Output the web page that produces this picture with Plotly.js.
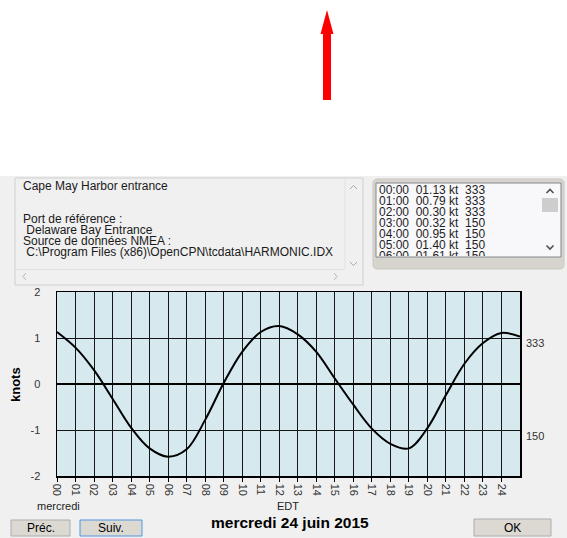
<!DOCTYPE html>
<html>
<head>
<meta charset="utf-8">
<script src="https://cdn.plot.ly/plotly-3.0.1.min.js"></script>
<style>html,body{margin:0;padding:0;background:#fff;}#chart{width:567px;height:538px;}</style>
</head>
<body>
<div id="chart"></div>
<script>
// ---- data ----
const hours = [0,1,2,3,4,5,6,7,8,9,10,11,12,13,14,15,16,17,18,19,20,21,22,23,24,25];
const speed = [1.13,0.79,0.30,-0.32,-0.95,-1.40,-1.58,-1.42,-0.78,0.02,0.70,1.13,1.26,1.08,0.70,0.12,-0.45,-0.97,-1.30,-1.40,-0.96,-0.24,0.44,0.89,1.11,1.03];
const hourTicks = [0,1,2,3,4,5,6,7,8,9,10,11,12,13,14,15,16,17,18,19,20,21,22,23,24];
const hourLabels = ['00','01','02','03','04','05','06','07','08','09','10','11','12','13','14','15','16','17','18','19','20','21','22','23','24'];
const yTicks = [-2,-1,0,1,2];
const yLabels = ['-2','-1','0','1','2'];
const listTimes = ['00:00','01:00','02:00','03:00','04:00','05:00','06:00'];
const listSpeeds = ['01.13','00.79','00.30','00.32','00.95','01.40','01.61'];
const listDirs = ['333','333','333','150','150','150','150'];
const infoLines = ['Cape May Harbor entrance','','','Port de référence :','\u00a0Delaware Bay Entrance','Source de données NMEA :','\u00a0C:\\Program Files (x86)\\OpenCPN\\tcdata\\HARMONIC.IDX'];
const dirFlood = '333', dirEbb = '150';
const dayName = 'mercredi', tzName = 'EDT', dateTitle = 'mercredi 24 juin 2015';
const yTitle = 'knots';
const buttons = ['Préc.','Suiv.','OK'];

// ---- helpers (pixel -> paper) ----
const W = 567, H = 538;
const X = p => p / W;
const Y = p => 1 - p / H;
const FONT = 'Liberation Sans, Arial, sans-serif';

function rect(x0, y0, x1, y1, fill, line, lw) {
  return {type:'rect', xref:'paper', yref:'paper', layer:'below',
    x0:X(x0), x1:X(x1), y0:Y(y1), y1:Y(y0),
    fillcolor:fill, line:{color:line || 'rgba(0,0,0,0)', width: line ? (lw || 1) : 0}};
}
function path(pts, fill, line, lw, close) {
  let d = pts.map((p, i) => (i ? 'L' : 'M') + X(p[0]).toFixed(5) + ',' + Y(p[1]).toFixed(5)).join(' ');
  if (close) d += ' Z';
  return {type:'path', xref:'paper', yref:'paper', layer:'below', path:d,
    fillcolor: fill || 'rgba(0,0,0,0)', line:{color: line || 'rgba(0,0,0,0)', width: line ? lw : 0}};
}
function roundRect(x0, y0, x1, y1, r, fill, line) {
  const pts = [];
  const seg = 4;
  const corners = [[x1 - r, y0 + r, -90], [x1 - r, y1 - r, 0], [x0 + r, y1 - r, 90], [x0 + r, y0 + r, 180]];
  corners.forEach(c => {
    for (let k = 0; k <= seg; k++) {
      const a = (c[2] + k * 90 / seg) * Math.PI / 180;
      pts.push([c[0] + r * Math.cos(a), c[1] + r * Math.sin(a)]);
    }
  });
  return path(pts, fill, line, 1, true);
}
function ann(text, px, py, o) {
  o = o || {};
  return Object.assign({xref:'paper', yref:'paper', x:X(px), y:Y(py), text:text, showarrow:false,
    xanchor:'center', yanchor:'middle', borderpad:0,
    font:{family:FONT, size:12, color:'#1a1a1a'}}, o);
}

const shapes = [];
// red arrow
shapes.push(rect(323, 33, 331, 100, '#ff0000'));
shapes.push(path([[320.5, 34], [333.5, 34], [327, 10]], '#ff0000', null, 0, true));
// dialog background
shapes.push(rect(0, 176, 567, 538, '#f0f0f0'));
// info text box
shapes.push(rect(15, 178, 363, 285, '#f0f0f0', '#cfcfcf', 1));
shapes.push(path([[345, 179], [345, 269]], null, '#e2e2e2', 1));
shapes.push(path([[16, 269.5], [345, 269.5]], null, '#e2e2e2', 1));
// scroll chevrons (info box)
shapes.push(path([[350, 189], [353.5, 185.5], [357, 189]], null, '#a8a8a8', 1));
shapes.push(path([[350, 262], [353.5, 265.5], [357, 262]], null, '#a8a8a8', 1));
shapes.push(path([[26, 273], [23, 276.5], [26, 280]], null, '#b5b5b5', 1));
shapes.push(path([[334, 273], [337, 276.5], [334, 280]], null, '#b5b5b5', 1));
// list frame
shapes.push(roundRect(373, 179, 564, 269, 4, '#d7d3cd', '#cbc7c1'));
shapes.push(rect(376, 183, 561, 257, '#f8f8fa', '#84888f', 1));
shapes.push(rect(542, 198, 558, 212, '#cdcdcd'));
shapes.push(path([[546.5, 193], [550, 189.5], [553.5, 193]], null, '#505050', 1.6));
shapes.push(path([[546.5, 245.5], [550, 249], [553.5, 245.5]], null, '#505050', 1.6));
// chart plot background
shapes.push(rect(57, 292, 520, 476, '#d5e9ee'));
// buttons
shapes.push(rect(11, 520, 70, 536, '#dcd9d3', '#adadad', 1));
shapes.push(rect(80, 520, 142, 536, '#dcd9d3', '#4d98e0', 1));
shapes.push(rect(474, 519, 551, 536, '#dcd9d3', '#adadad', 1));

const annotations = [];
const infoY0 = 186, lineH = 11;
infoLines.forEach((t, i) => {
  if (t) annotations.push(ann(t, 22, infoY0 + i * lineH, {xanchor:'left'}));
});
annotations.push(ann(yTitle, 15, 385, {textangle:-90, font:{family:FONT, size:13, color:'#000'}, text:'<b>' + yTitle + '</b>'}));
annotations.push(ann(dirFlood, 525, 343, {xanchor:'left', font:{family:FONT, size:11, color:'#333'}}));
annotations.push(ann(dirEbb, 525, 436, {xanchor:'left', font:{family:FONT, size:11, color:'#333'}}));
annotations.push(ann(dayName, 58, 506, {font:{family:FONT, size:11, color:'#222'}}));
annotations.push(ann(tzName, 288, 506, {font:{family:FONT, size:11, color:'#222'}}));
annotations.push(ann('<b>' + dateTitle + '</b>', 290, 522, {font:{family:FONT, size:15.5, color:'#000'}}));
annotations.push(ann(buttons[0], 40.5, 528, {font:{family:FONT, size:12, color:'#000'}}));
annotations.push(ann(buttons[1], 111, 528, {font:{family:FONT, size:12, color:'#000'}}));
annotations.push(ann(buttons[2], 512.5, 527.5, {font:{family:FONT, size:12, color:'#000'}}));

const NB = '\u00a0';
const listText = listTimes.map((t, i) => t + NB + NB + listSpeeds[i] + NB + 'kt' + NB + NB + listDirs[i]);
const listY = listTimes.map((t, i) => 7 + i * 11);
const listX = listTimes.map(() => 2);

const traces = [
  {x:hours, y:speed, type:'scatter', mode:'lines', line:{color:'#000', width:2, shape:'spline', smoothing:1},
   hoverinfo:'skip', xaxis:'x', yaxis:'y', cliponaxis:true},
  {x:listX, y:listY, type:'scatter', mode:'text', text:listText, textposition:'middle right',
   textfont:{family:FONT, size:12, color:'#1e1e28'}, hoverinfo:'skip', xaxis:'x2', yaxis:'y2', cliponaxis:true}
];

const layout = {
  width:W, height:H, autosize:false, showlegend:false,
  margin:{l:0, r:0, t:0, b:0, pad:0},
  paper_bgcolor:'#ffffff', plot_bgcolor:'rgba(0,0,0,0)',
  xaxis:{domain:[X(57), X(520)], range:[0,25], tickmode:'array', tickvals:hourTicks, ticktext:hourLabels,
    tickangle:90, ticks:'outside', ticklen:4, tickcolor:'#000', tickwidth:1,
    showgrid:true, gridcolor:'#161616', gridwidth:1, zeroline:false,
    showline:true, mirror:true, linecolor:'#000', linewidth:1.5,
    tickfont:{family:FONT, size:11, color:'#333'}, fixedrange:true},
  yaxis:{domain:[Y(476), Y(292)], range:[-2,2], tickmode:'array', tickvals:yTicks, ticktext:yLabels,
    ticks:'', ticklabelstandoff:13, showgrid:true, gridcolor:'#161616', gridwidth:1,
    zeroline:true, zerolinecolor:'#000', zerolinewidth:2,
    showline:true, mirror:true, linecolor:'#000', linewidth:1.5,
    tickfont:{family:FONT, size:11, color:'#333'}, fixedrange:true},
  xaxis2:{domain:[X(377), X(541)], range:[0,164], visible:false, fixedrange:true, anchor:'y2'},
  yaxis2:{domain:[Y(256), Y(184)], range:[72,0], visible:false, fixedrange:true, anchor:'x2'},
  shapes:shapes,
  annotations:annotations
};

Plotly.newPlot('chart', traces, layout, {displayModeBar:false, staticPlot:true});
</script>
</body>
</html>
